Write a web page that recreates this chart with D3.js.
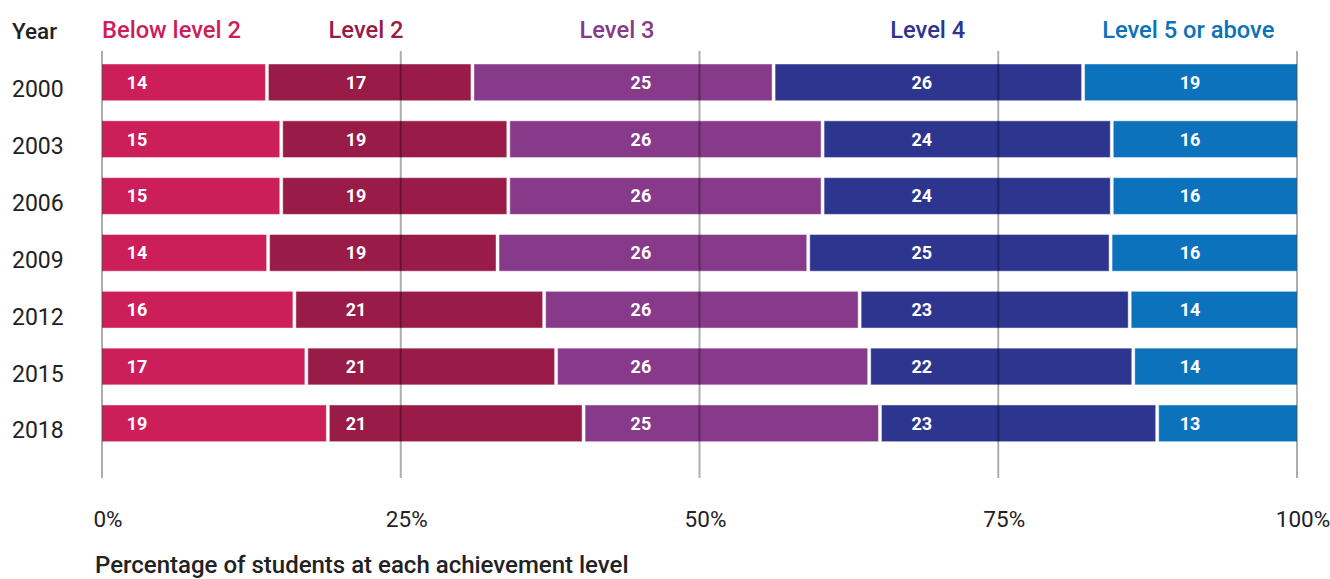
<!DOCTYPE html>
<html>
<head>
<meta charset="utf-8">
<script src="https://cdn.jsdelivr.net/npm/d3@7"></script>
<style>
  html, body { margin: 0; padding: 0; background: #fff; }
  svg { display: block; font-family: Roboto, "Open Sans", sans-serif; }
</style>
</head>
<body>
<svg id="chart" width="1330" height="579"></svg>
<script>
// ---- data ----
const years = ["2000", "2003", "2006", "2009", "2012", "2015", "2018"];
const levels = ["Below level 2", "Level 2", "Level 3", "Level 4", "Level 5 or above"];
const belowLevel2 = [13.8, 15.0, 15.0, 13.9, 16.1, 17.1, 18.9];
const level2      = [17.2, 19.0, 19.0, 19.2, 20.9, 20.9, 21.4];
const level3      = [25.2, 26.3, 26.3, 26.0, 26.4, 26.2, 24.8];
const level4      = [25.9, 24.2, 24.2, 25.3, 22.6, 22.1, 23.2];
const level5      = [18.9, 15.6, 15.6, 15.6, 14.0, 13.7, 13.0];
const tickValues  = [0, 25, 50, 75, 100];
const tickLabels  = ["0%", "25%", "50%", "75%", "100%"];
const axisTitle = "Percentage of students at each achievement level";
const series = [belowLevel2, level2, level3, level4, level5];

// ---- style / layout ----
const colors = ["#CC1E59", "#991B47", "#873A8A", "#2D358F", "#0B72BB"];
const labelPos = [2.93, 21.26, 45.1, 68.6, 91.05];       // % position of value labels per level
const headerPos = [{x: 0, anchor: "start"}, {x: 22.1, anchor: "middle"}, {x: 43.1, anchor: "middle"},
                   {x: 69.1, anchor: "middle"}, {x: 90.9, anchor: "middle"}];

const svg = d3.select("#chart");
const x = d3.scaleLinear().domain([0, 100]).range([102, 1297]).clamp(true);
const y = d3.scaleBand().domain(years).range([53.94, 451.75]).paddingInner(0.354).paddingOuter(0.177);

// stacked data
const rows = years.map((yr, i) => {
  let acc = 0;
  return series.map((s, k) => {
    const v = s[i];
    const seg = {year: yr, k, v, x0: acc, x1: acc + v};
    acc += v;
    return seg;
  });
});

// bars
const gBars = svg.append("g");
rows.forEach(row => {
  gBars.selectAll(null).data(row).enter().append("rect")
    .attr("x", d => x(d.x0) + (d.k === 0 ? 0 : 1.5))
    .attr("width", d => x(d.x1) - x(d.x0) - (d.k === 0 ? 1.5 : 3) + (d.k === 4 ? 1.5 : 0))
    .attr("y", d => y(d.year))
    .attr("height", y.bandwidth())
    .attr("fill", d => colors[d.k])
    .attr("stroke", "#fff")
    .attr("stroke-opacity", 0.45)
    .attr("stroke-width", 1);
});

// value labels
rows.forEach(row => {
  gBars.selectAll(null).data(row).enter().append("text")
    .attr("x", d => x(labelPos[d.k]))
    .attr("y", d => y(d.year) + y.bandwidth() / 2)
    .attr("dy", "0.36em")
    .attr("text-anchor", "middle")
    .attr("fill", "#fff")
    .attr("font-weight", 700)
    .attr("font-size", "18px")
    .text(d => d3.format(".0f")(d.v));
});

// gridlines (on top)
svg.append("g").selectAll("line").data(tickValues).enter().append("line")
  .attr("x1", d => x(d)).attr("x2", d => x(d))
  .attr("y1", 51).attr("y2", 478)
  .attr("stroke", "#000")
  .attr("stroke-opacity", 0.32)
  .attr("stroke-width", 2);

// x tick labels
svg.append("g").selectAll("text").data(tickValues).enter().append("text")
  .attr("x", d => x(d) + 6)
  .attr("y", 527)
  .attr("text-anchor", "middle")
  .attr("font-size", "22.5px")
  .attr("fill", "#222")
  .text((d, i) => tickLabels[i]);

// year labels
svg.append("g").selectAll("text").data(years).enter().append("text")
  .attr("x", 12)
  .attr("y", d => y(d) + y.bandwidth() / 2 + 15)
  .attr("font-size", "23px")
  .attr("fill", "#222")
  .text(d => d);

// "Year" header
svg.append("text").attr("x", 12).attr("y", 39)
  .attr("font-size", "22.5px").attr("font-weight", 500).attr("fill", "#222").text("Year");

// level headers
svg.append("g").selectAll("text").data(levels).enter().append("text")
  .attr("x", (d, i) => x(headerPos[i].x))
  .attr("y", 37.5)
  .attr("text-anchor", (d, i) => headerPos[i].anchor)
  .attr("font-size", "23.7px")
  .attr("font-weight", 500)
  .attr("fill", (d, i) => colors[i])
  .text(d => d);

// axis title
svg.append("text").attr("x", 95).attr("y", 573)
  .attr("font-size", "24px").attr("font-weight", 500).attr("fill", "#222").text(axisTitle);
</script>
</body>
</html>
